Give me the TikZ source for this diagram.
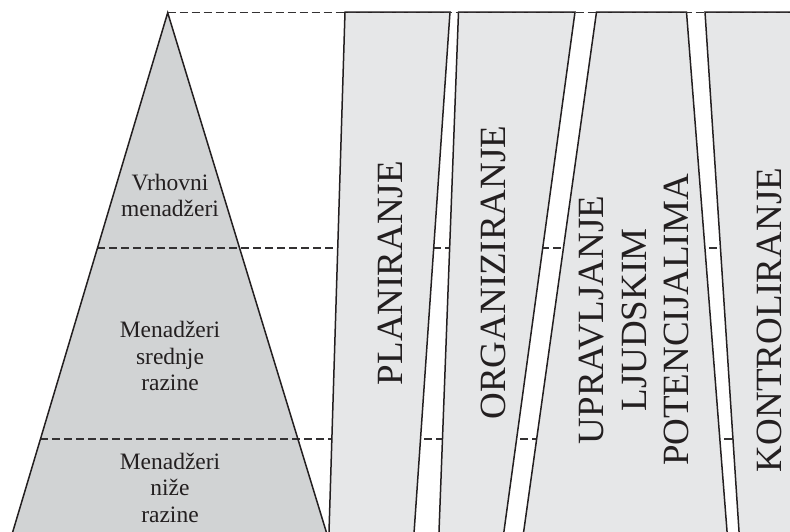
\documentclass[tikz,border=0pt]{standalone}
\usepackage{fontspec}
\setmainfont{Liberation Serif}
\usetikzlibrary{calc}
\definecolor{lineclr}{HTML}{231F20}
\definecolor{dashclr}{HTML}{333132}
\definecolor{pyrfill}{HTML}{D1D3D4}
\definecolor{bandfill}{HTML}{E6E7E8}
\tikzset{
  outline/.style={draw=lineclr, line width=1.5pt, line join=miter},
  levelline/.style={draw=dashclr, line width=1.5pt, dash pattern=on 8pt off 4pt},
  bandlabel/.style={rotate=90, font=\fontsize{37}{42.5}\selectfont, text=lineclr, align=center, inner sep=0pt},
  pyrlabel/.style={font=\fontsize{23.5}{26.5}\selectfont, text=lineclr, align=center, inner sep=0pt}
}
\begin{document}
\begin{tikzpicture}[x=1pt,y=-1pt]
\useasboundingbox (0,0) rectangle (790,531);
\begin{scope}
\clip (0,0) rectangle (790,531);
% pyramid
\coordinate (apex) at (167.7,12.7);
\coordinate (bl) at (13,531);
\coordinate (br) at (326,531);
\coordinate (bl2) at ($(apex)!1.03!(bl)$);
\coordinate (br2) at ($(apex)!1.03!(br)$);
\fill[pyrfill] (apex) -- (bl2) -- (br2) -- cycle;
% level lines
\coordinate (l1) at ($(apex)!0.454!(bl)$);
\coordinate (l2) at ($(apex)!0.8225!(bl)$);
\coordinate (r0) at (800,12.7);
\coordinate (r1) at (800,248);
\coordinate (r2) at (800,439);
\draw[levelline] (l1) -- (l1 -| r1);
\draw[levelline] (l2) -- (l2 -| r2);
\draw[outline] (bl2) -- (apex) -- (br2);
% bands
\draw[outline, fill=bandfill] (345,12) -- (450,12) -- (413.2,545) -- (328.6,545) -- cycle;
\draw[outline, fill=bandfill] (458.5,12) -- (575,12) -- (502.1,545) -- (438.5,545) -- cycle;
\draw[outline, fill=bandfill] (596.5,12) -- (686.5,12) -- (728.1,545) -- (521.8,545) -- cycle;
\draw[outline, fill=bandfill] (705,12) -- (800,12) -- (800,545) -- (739.9,545) -- cycle;
\draw[levelline] (apex) -- (r0);
\end{scope}
% labels
\node[pyrlabel] (top) at (170,195.5) {Vrhovni\\menadžeri};
\node[pyrlabel] (mid) at (170,356) {Menadžeri\\srednje\\razine};
\node[pyrlabel] (low) at (170,487.5) {Menadžeri\\niže\\razine};
\node[bandlabel] (plan) at (390.5,273) {PLANIRANJE};
\node[bandlabel] (org) at (493.5,272.5) {ORGANIZIRANJE};
\node[bandlabel] (upr) at (634,320) {UPRAVLJANJE\\LJUDSKIM\\POTENCIJALIMA};
\node[bandlabel] (kon) at (769.5,320) {KONTROLIRANJE};
\end{tikzpicture}
\end{document}
